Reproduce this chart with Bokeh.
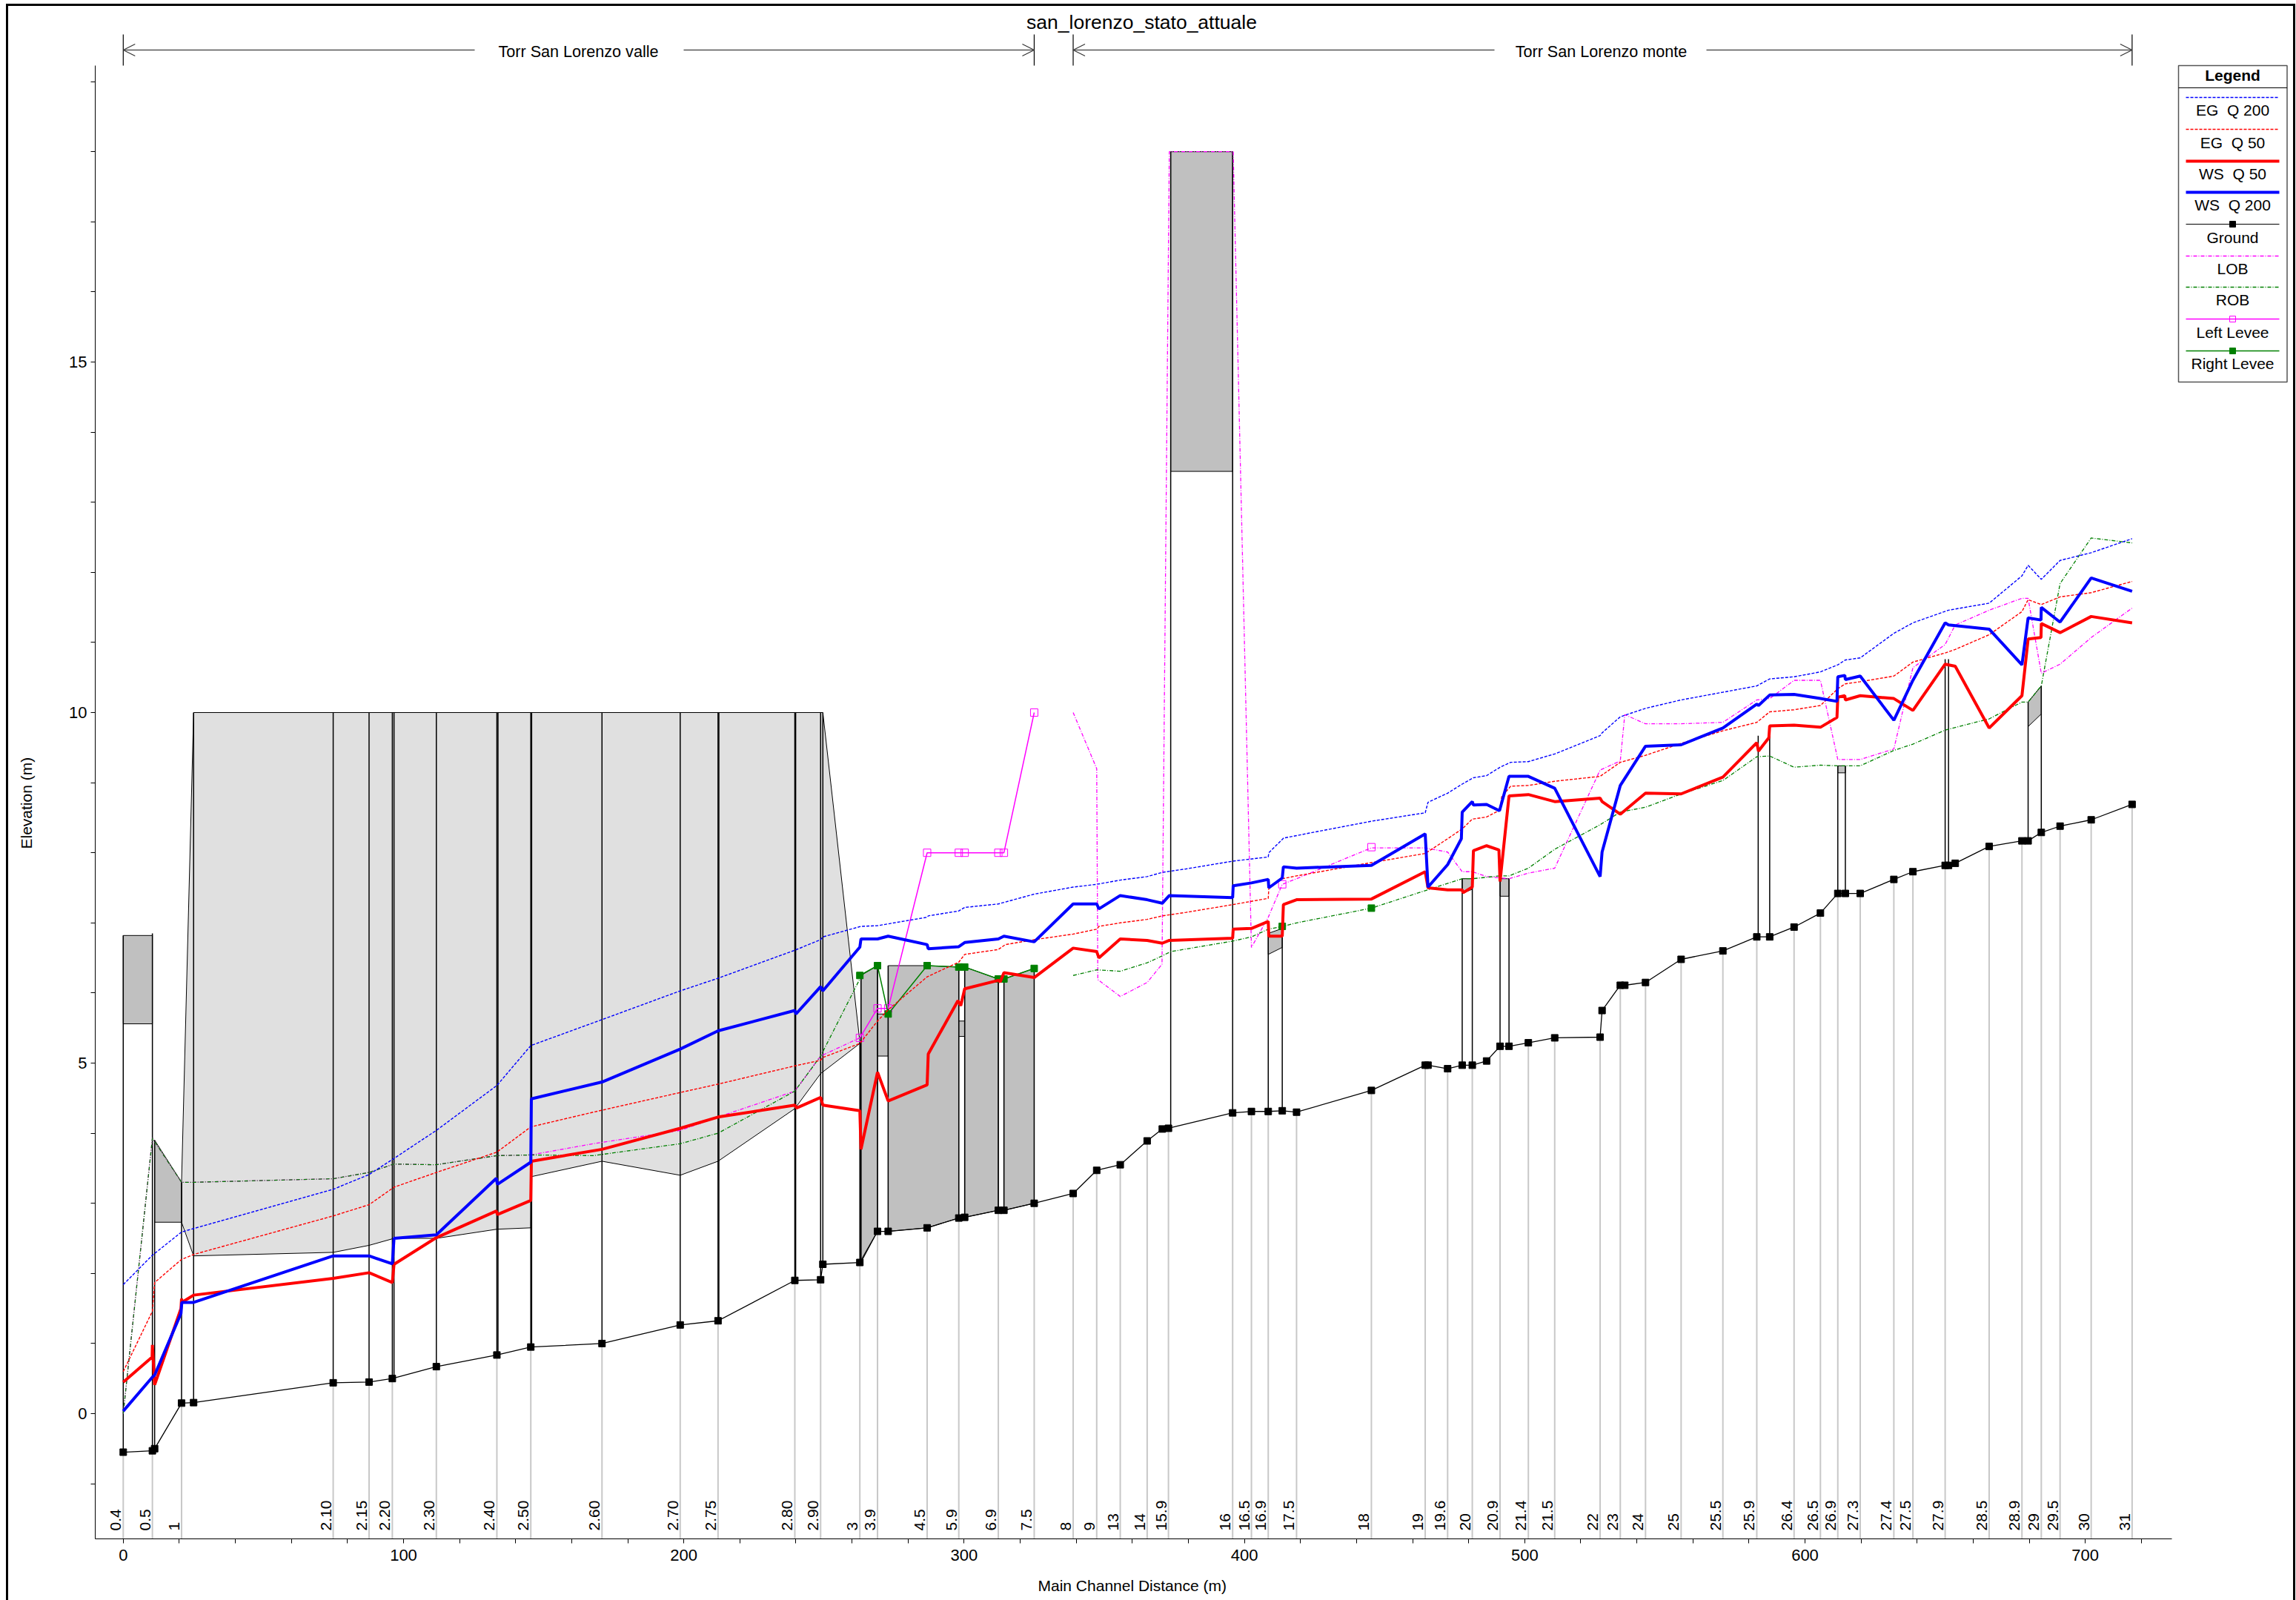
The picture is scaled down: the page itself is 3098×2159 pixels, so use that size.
from math import pi
from bokeh.plotting import figure
from bokeh.embed import file_html
from bokeh.resources import INLINE
from bokeh.core.properties import value
from bokeh.models import FixedTicker, Arrow, OpenHead, Title, InlineStyleSheet

# ---------- data ----------
station_labels = ["0.4","0.5","1","2.10","2.15","2.20","2.30","2.40","2.50","2.60","2.70","2.75","2.80","2.90","3","3.9","4.5","5.9","6.9","7.5","8","9","13","14","15.9","16","16.5","16.9","17.5","18","19","19.6","20","20.9","21.4","21.5","22","23","24","25","25.5","25.9","26.4","26.5","26.9","27.3","27.4","27.5","27.9","28.5","28.9","29","29.5","30","31"]
station_x = [0,10.4,20.8,74.9,87.7,96,111.7,133.3,145.4,170.8,198.7,212.2,239.6,248.8,262.8,269.1,286.8,298.1,312.2,325,338.9,347.3,355.7,365.3,372.9,395.8,402.5,408.5,418.6,445.3,464.5,472.5,481.3,491.2,501.3,510.7,526.9,534.1,543.1,555.8,570.7,582.8,596.1,605.5,611.7,619.7,631.7,638.5,650,665.7,677.4,684.3,691,702.1,716.7]
station_ground = [-0.55,-0.53,0.15,0.44,0.45,0.5,0.67,0.836,0.95,1.0,1.265,1.324,1.9,1.91,2.156,2.6,2.65,2.79,2.9,3.0,3.14,3.47,3.55,3.89,4.07,4.29,4.31,4.31,4.3,4.61,4.97,4.92,4.97,5.24,5.29,5.36,5.37,6.11,6.15,6.48,6.6,6.8,6.94,7.14,7.42,7.42,7.62,7.73,7.82,8.09,8.17,8.29,8.38,8.47,8.69]

ground_x = [0,10.4,11.2,20.8,25.1,74.9,87.7,96,111.7,133.3,145.4,170.8,198.7,212.2,239.6,248.8,249.6,262.8,269.1,272.9,286.8,298.1,300.2,312.2,314.2,325,338.9,347.3,355.7,365.3,370.7,372.9,395.8,402.5,408.5,413.5,418.6,445.3,464.5,465.5,472.5,477.7,481.3,486.4,491.2,494.4,501.3,510.7,526.9,527.6,534.1,535.7,543.1,555.8,570.7,582.8,587.4,596.1,605.5,611.7,614.4,619.7,631.7,638.5,650,651.2,653.6,665.7,677.4,679.6,684.3,691,702.1,716.7]
ground_y = [-0.55,-0.53,-0.5,0.15,0.157,0.44,0.45,0.5,0.67,0.836,0.95,1.0,1.265,1.324,1.9,1.91,2.13,2.156,2.6,2.6,2.65,2.79,2.8,2.9,2.9,3.0,3.14,3.47,3.55,3.89,4.06,4.07,4.29,4.31,4.31,4.32,4.3,4.61,4.97,4.97,4.92,4.97,4.97,5.03,5.24,5.24,5.29,5.36,5.37,5.75,6.11,6.11,6.15,6.48,6.6,6.8,6.8,6.94,7.14,7.42,7.42,7.42,7.62,7.73,7.82,7.82,7.85,8.09,8.17,8.17,8.29,8.38,8.47,8.69]

ws200_x = [0,10.4,11.2,20.6,20.9,25.1,74.9,87.7,96,96.6,111.7,133.1,133.5,145.4,145.6,170.8,198.7,212.2,239.6,240,248.8,249.6,262.8,263.2,269.1,272.9,286.8,287.2,298.1,300.2,312.2,314.2,325,338.9,347.3,348.1,355.7,365.3,370.7,373.2,395.8,396,402.5,408.5,408.7,413.5,413.9,418.6,445.3,464.5,465.5,472.5,477.4,477.7,481.3,481.7,486.4,491,494.4,501.3,510.7,526.9,527.6,534.1,543.1,555.8,570.7,582.8,583.4,587.4,596.1,605.5,611.4,611.7,614.2,614.4,619.7,631.7,638.5,650,651.2,665.7,677.4,679.6,684.2,684.3,691,702.1,716.7]
ws200_y = [0.036,0.52,0.55,1.43,1.586,1.586,2.25,2.25,2.136,2.5,2.55,3.357,3.27,3.586,4.49,4.73,5.2,5.46,5.75,5.7,6.09,6.03,6.655,6.77,6.77,6.81,6.69,6.63,6.66,6.72,6.77,6.81,6.73,7.27,7.27,7.2,7.39,7.33,7.28,7.39,7.36,7.53,7.57,7.62,7.5,7.64,7.8,7.78,7.82,8.27,7.51,7.83,8.2,8.58,8.73,8.68,8.69,8.6,9.09,9.09,8.92,7.66,8.01,8.96,9.52,9.54,9.78,10.12,10.1,10.25,10.26,10.2,10.16,10.51,10.53,10.47,10.52,9.89,10.46,11.28,11.25,11.19,10.68,11.35,11.32,11.5,11.29,11.92,11.73]

ws50_x = [0,10.3,10.4,11.2,20.6,20.8,21,25.1,74.9,87.7,96,96.6,111.7,133.1,133.5,145.4,145.6,170.8,198.7,212.2,239.6,240.2,248.8,249.6,262.8,263.2,269.1,272.9,286.8,287.2,297.8,298.8,300.2,312.2,312.9,314.2,325,338.9,347.3,348.1,355.7,365.3,370.7,373.2,395.8,396,402.5,408.5,408.7,413.5,413.9,418.6,445.3,464.5,465.5,472.5,477.7,478,481.3,481.7,486.4,490.8,491.2,494.4,501.3,510.7,526.9,527.6,534.1,543.1,555.8,570.7,582.8,583.4,587.1,587.4,596.1,605.5,611.4,611.7,614.2,614.4,619.7,631.7,638.5,650,653.6,665.7,677.4,679.6,684.2,684.3,691,702.1,716.7]
ws50_y = [0.45,0.807,0.98,0.41,1.5,1.64,1.59,1.69,1.93,2.01,1.87,2.13,2.51,2.89,2.84,3.04,3.6,3.77,4.07,4.23,4.4,4.36,4.51,4.4,4.32,3.77,4.87,4.46,4.69,5.13,5.89,5.82,6.06,6.18,6.16,6.29,6.22,6.64,6.59,6.5,6.77,6.75,6.71,6.75,6.78,6.91,6.92,7.02,6.81,6.81,7.26,7.33,7.34,7.73,7.5,7.47,7.47,7.43,7.51,8.03,8.1,8.04,7.59,8.81,8.83,8.73,8.78,8.73,8.55,8.85,8.84,9.08,9.57,9.45,9.64,9.81,9.82,9.79,9.93,10.22,10.24,10.18,10.24,10.2,10.03,10.69,10.66,9.78,10.24,11.05,11.07,11.27,11.14,11.37,11.28]

eg200_x = [0,10.4,20.8,25.1,74.9,87.7,96.6,111.7,133.3,145.4,170.8,198.7,212.2,239.6,248.8,249.6,263.2,269.1,286.8,287.2,298.1,300.2,312.2,325,338.9,347.3,355.7,365.3,370.7,379.2,395.8,408.5,408.7,414,445.3,464.5,465.5,472.5,477.7,481.7,486.4,491.2,495,501.3,510.7,526.9,527.6,534.1,543.1,555.8,570.7,582.8,587.4,596.1,605.5,611.7,614.4,619.7,631.7,638.5,651.2,665.7,677.4,679.6,684.3,691,702.1,716.7]
eg200_y = [1.84,2.26,2.59,2.64,3.2,3.41,3.64,4.04,4.68,5.25,5.62,6.03,6.21,6.61,6.76,6.8,6.95,6.96,7.08,7.1,7.17,7.22,7.27,7.41,7.51,7.55,7.61,7.66,7.72,7.77,7.88,7.94,8.0,8.21,8.45,8.57,8.72,8.85,8.98,9.07,9.1,9.22,9.29,9.3,9.41,9.67,9.71,9.94,10.06,10.18,10.29,10.38,10.48,10.51,10.58,10.68,10.75,10.78,11.13,11.28,11.46,11.56,11.95,12.1,11.9,12.17,12.28,12.48]

eg50_x = [0,10.4,11.2,20.8,25.1,74.9,87.7,96.6,111.7,133.3,145.4,167.7,198.7,212.2,239.6,248.8,249.6,262.8,269.1,272.9,286.8,298.1,300.2,312.2,314.7,325,338.9,347.3,348.1,355.7,365.3,370.7,379.2,395.8,408.5,408.7,413.5,418.6,445.3,464.5,472.5,477.7,481.3,486.4,491.2,491.8,495,501.3,510.7,526.9,534.1,543.1,555.8,570.7,582.8,587.4,596.1,605.5,611.7,614.4,619.7,631.7,638.5,650,653.6,665.7,677.4,679.6,684.3,691,702.1,716.7]
eg50_y = [0.6,1.46,1.87,2.2,2.27,2.82,2.98,3.23,3.44,3.73,4.09,4.3,4.58,4.7,4.96,5.04,5.08,5.28,5.6,5.76,6.23,6.44,6.55,6.62,6.69,6.76,6.84,6.91,6.95,7.0,7.05,7.1,7.15,7.26,7.35,7.49,7.63,7.67,7.86,7.99,8.2,8.34,8.48,8.51,8.61,8.8,8.95,8.96,9.02,9.09,9.29,9.39,9.56,9.74,9.86,10.01,10.04,10.1,10.34,10.41,10.44,10.52,10.72,10.85,10.9,11.11,11.44,11.61,11.54,11.65,11.71,11.87]

lob_a_x = [0,10.4,20.8,25.1,74.9,87.7,96.6,111.7,133.3,145.4,167.7,198.7,212.2,239.6,248.8,262.8]
lob_a_y = [0,3.93,3.3,3.3,3.35,3.44,3.56,3.55,3.68,3.69,3.85,4.04,4.23,4.6,5.1,5.36]
lob_b_x = [338.9,347.3,347.7,355.7,365.3,370.6,373.2,396,402.5,408.5,413.5,418.6,445.3,464.5,472.5,477.7,481.3,486.4,494.4,501.3,510.7,526.9,534.1,535.7,543.1,555.8,570.7,582.8,587.4,596.1,605.5,611.7,619.7,631.7,638.5,650,653.6,665.7,677.4,679.6,684.3,691,702.1,716.7]
lob_b_y = [10,9.2,6.19,5.95,6.15,6.41,18,18,6.65,7.08,7.55,7.63,8.07,8.07,8.01,7.73,7.73,7.66,7.63,7.71,7.78,9.18,9.31,9.97,9.84,9.84,9.86,10.18,10.2,10.46,10.46,9.33,9.33,9.48,10.64,10.97,11.25,11.46,11.63,11.63,10.56,10.69,11.07,11.49]
rob_a_x = [0,10.4,20.8,25.1,74.9,87.7,96.6,111.7,133.3,145.4,167.7,198.7,212.2,239.6,248.8,262.8]
rob_a_y = [0,3.93,3.3,3.3,3.35,3.44,3.56,3.55,3.68,3.69,3.68,3.85,4.0,4.6,5.1,6.2]
rob_b_x = [338.9,347.3,355.7,365.3,370.7,373.7,395.8,402.5,408.5,413.5,418.6,445.3,464.5,477.7,481.3,491.2,494.4,501.3,510.7,526.9,534.1,543.1,555.8,570.7,582.8,587.4,596.1,605.5,611.7,619.7,631.7,638.5,650,665.7,677.4,679.6,684.3,691,702.1,716.7]
rob_b_y = [6.25,6.33,6.31,6.43,6.53,6.59,6.74,6.8,6.91,6.95,7.0,7.21,7.46,7.63,7.63,7.67,7.67,7.78,8.05,8.4,8.58,8.65,8.84,9.03,9.37,9.38,9.22,9.25,9.24,9.24,9.46,9.55,9.75,9.91,10.15,10.15,10.38,11.84,12.49,12.42]

left_levee_x = [262.8,269.1,272.9,286.8,298.1,300.2,312.2,314.2,325]
left_levee_y = [5.36,5.78,5.78,8.0,8.0,8.0,8.0,8.0,10.0]
right_levee_x = [262.8,269.1,272.9,286.8,298.1,300.2,312.2,314.2,325]
right_levee_y = [6.25,6.39,5.7,6.39,6.37,6.37,6.2,6.2,6.35]
left_levee_pts_x = [413.5,445.3]
left_levee_pts_y = [7.55,8.08]
right_levee_pts_x = [413.5,445.3]
right_levee_pts_y = [6.95,7.21]

# pale approach structure
pale_x = [20.8,25.1,249.6,262.8,262.8,248.8,239.6,212.2,198.7,170.8,145.6,145.4,133.3,111.7,96.6,87.7,74.9,25.1,20.8]
pale_y = [3.3,10,10,5.3,5.28,4.85,4.35,3.6,3.4,3.6,3.38,2.65,2.63,2.5,2.5,2.4,2.3,2.25,2.73]

# dark decks
deck_xs = [[0,10.4,10.4,0],[11.2,20.8,20.8,11.2],[263.2,269.1,269.1,263.2],[269.1,272.9,272.9,269.1],[272.9,286.8,298.1,298.1,286.8,272.9],[298.1,300.2,300.2,298.1],[300.2,312.2,312.2,300.2],[314.2,325,325,314.2],[373.7,395.8,395.8,373.7],[408.5,413.5,413.5,408.5],[477.7,481.3,481.3,477.7],[491.2,494.4,494.4,491.2],[611.7,614.4,614.4,611.7],[679.6,684.3,684.3,679.6]]
deck_ys = [[6.82,6.82,5.56,5.56],[3.9,3.3,2.73,2.73],[6.25,6.39,2.6,2.156],[5.7,5.7,5.1,5.1],[6.39,6.39,6.37,2.79,2.65,2.6],[5.6,5.6,5.38,5.38],[6.37,6.2,2.9,2.8],[6.2,6.35,3.0,2.9],[18,18,13.44,13.44],[6.85,6.92,6.65,6.55],[7.63,7.63,7.48,7.42],[7.63,7.63,7.38,7.38],[9.24,9.24,9.14,9.14],[10.15,10.38,9.98,9.8]]

# black vertical lines of the structures
pier_x =  [0,10.4,11.2,20.8,25.1,74.9,87.7,96,96.6,111.7,133.3,133.7,145.4,145.7,170.8,198.7,212.2,212.5,239.6,239.9,248.8,249.6,262.8,263.2,269.1,272.9,298.1,300.2,312.2,314.2,325,373.7,395.8,408.5,413.5,477.7,481.3,491.2,494.4,583.3,587.4,611.7,614.4,650,651.2,679.6,684.3]
pier_lo = [-0.55,-0.53,-0.5,0.15,0.157,0.44,0.45,0.5,0.5,0.67,0.836,0.836,0.95,0.95,1.0,1.265,1.324,1.324,1.9,1.9,1.91,2.13,2.156,2.156,2.6,2.6,2.79,2.8,2.9,2.9,3.0,4.07,4.29,4.31,4.32,4.97,4.97,5.24,5.24,6.8,6.8,7.42,7.42,7.82,7.82,8.17,8.29]
pier_hi = [6.82,6.85,3.9,3.3,10,10,10,10,10,10,10,10,10,10,10,10,10,10,10,10,10,10,5.3,6.25,6.39,6.39,6.37,6.37,6.2,6.2,6.35,18,18,6.85,6.92,7.63,7.63,7.63,7.63,9.67,9.67,9.24,9.24,10.76,10.76,10.15,10.38]

x_ticks = [0,100,200,300,400,500,600,700]
x_minor = [20,40,60,80,120,140,160,180,220,240,260,280,320,340,360,380,420,440,460,480,520,540,560,580,620,640,660,680,720]
y_ticks = [0,5,10,15]
y_minor = [-1,1,2,3,4,6,7,8,9,11,12,13,14,16,17,18,19]

title_text = "san_lorenzo_stato_attuale"
reach_names = ["Torr San Lorenzo valle","Torr San Lorenzo monte"]
legend_titles = ["EG \u00a0Q 200","EG \u00a0Q 50","WS \u00a0Q 50","WS \u00a0Q 200","Ground","LOB","ROB","Left Levee","Right Levee"]

# ---------- page geometry (page px -> data) ----------
W, H = 3098, 2159
PX0, PXM = 165.8, 3.782
PY0, PYM = 1907.0, 94.6
def dx(px): return (px-PX0)/PXM
def dy(py): return (PY0-py)/PYM
AX_L, AX_B, AX_T, AX_R = 128, 2076, 88, 2930
FONT = "Liberation Sans"

p = figure(width=W, height=H, output_backend="svg", toolbar_location=None,
           x_range=(dx(AX_L), dx(W)), y_range=(dy(AX_B), dy(0)),
           min_border_left=AX_L, min_border_right=0, min_border_top=0,
           min_border_bottom=H-AX_B, background_fill_color="white",
           border_fill_color="white", outline_line_color=None)
p.frame_width = W-AX_L
p.frame_height = AX_B
p.xgrid.visible = False
p.ygrid.visible = False
p.stylesheets = [InlineStyleSheet(css=":host{position:relative;} :host::after{content:'';position:absolute;left:8px;top:5px;right:1px;bottom:0;border:3px solid black;border-bottom:none;pointer-events:none;}")]

for ax, tk, mn, bd in ((p.xaxis[0], x_ticks, x_minor, (dx(AX_L), dx(AX_R))),
                       (p.yaxis[0], y_ticks, y_minor, (dy(AX_B), dy(AX_T)))):
    ax.ticker = FixedTicker(ticks=tk, minor_ticks=mn)
    ax.bounds = bd
    ax.major_tick_in = 0; ax.major_tick_out = 6
    ax.minor_tick_in = 0; ax.minor_tick_out = 6
    ax.axis_line_color = "black"; ax.major_tick_line_color = "black"; ax.minor_tick_line_color = "black"
    ax.major_label_text_font = FONT; ax.major_label_text_font_size = "22px"; ax.major_label_text_color = "black"
p.xaxis[0].major_label_standoff = 8
p.yaxis[0].major_label_orientation = "horizontal"
# blank axis label keeps the y title away from the tick labels
p.yaxis[0].axis_label = "\u00a0"
p.yaxis[0].axis_label_text_font_size = "1px"
p.yaxis[0].axis_label_standoff = 20

# axis titles in the side panels (annotations in the plot area would be clipped to the frame)
p.add_layout(Title(text="Main Channel Distance (m)", align="left", offset=1272, standoff=34, text_font=FONT,
                   text_font_size="21px", text_font_style="normal", text_color="black"), "below")
p.add_layout(Title(text="Elevation (m)", align="left", offset=931, standoff=38, text_font=FONT,
                   text_font_size="21px", text_font_style="normal", text_color="black"), "left")

# structures
p.patch(pale_x, pale_y, fill_color="#e0e0e0", line_color="black", line_width=1)
p.patches(deck_xs, deck_ys, fill_color="#c0c0c0", line_color="black", line_width=1)
p.segment(station_x, [dy(AX_B)]*len(station_x), station_x, station_ground, line_color="#c8c8c8", line_width=2)
p.segment(pier_x, pier_lo, pier_x, pier_hi, line_color="black", line_width=1.5)

# series
dash_eg = "4 2"; dash_ob = "5 2 1 2"
p.line(lob_a_x, lob_a_y, line_color="#ff00ff", line_width=1.3, line_dash=dash_ob)
p.line(lob_b_x, lob_b_y, line_color="#ff00ff", line_width=1.3, line_dash=dash_ob)
p.line(rob_a_x, rob_a_y, line_color="#008000", line_width=1.3, line_dash=dash_ob)
p.line(rob_b_x, rob_b_y, line_color="#008000", line_width=1.3, line_dash=dash_ob)
p.line(left_levee_x, left_levee_y, line_color="#ff00ff", line_width=1.5)
p.scatter(left_levee_x+left_levee_pts_x, left_levee_y+left_levee_pts_y, marker="square", size=10, line_color="#ff00ff", fill_color=None)
p.line(right_levee_x, right_levee_y, line_color="#008000", line_width=1.5)
p.scatter(right_levee_x+right_levee_pts_x, right_levee_y+right_levee_pts_y, marker="square", size=9, line_color="#008000", fill_color="#008000")
p.line(eg200_x, eg200_y, line_color="#0000ff", line_width=1.4, line_dash=dash_eg)
p.line(eg50_x, eg50_y, line_color="#ff0000", line_width=1.4, line_dash=dash_eg)
p.line(ground_x, ground_y, line_color="black", line_width=1.3)
p.scatter(ground_x, ground_y, marker="square", size=9, line_color="black", fill_color="black")
p.line(ws50_x, ws50_y, line_color="#ff0000", line_width=4)
p.line(ws200_x, ws200_y, line_color="#0000ff", line_width=4)

# station labels
p.text(station_x, [dy(2065)]*len(station_x), text=station_labels, angle=pi/2, x_offset=-3,
       text_font=value(FONT), text_font_size="21px", text_align="left", text_baseline="bottom", text_color="black")

# title, reach brackets
def txt(x, y, s, bold=False, size="21px", align="center"):
    p.text([x],[y],text=[s],text_font=value(FONT),text_font_size=size,text_align=align,text_baseline="middle",
           text_color="black",text_font_style="bold" if bold else "normal")
txt(dx(1540), dy(29), title_text, size="26.5px")

def bracket(x0, x1, name, cx, g0, g1):
    yy = dy(67)
    for xt in (x0, x1):
        p.segment([xt],[dy(46)],[xt],[dy(88)],line_color="black",line_width=1.2)
    p.add_layout(Arrow(end=OpenHead(size=16,line_color="#333333",line_width=1.2), x_start=dx(g0), y_start=yy, x_end=x0, y_end=yy, line_color="#555555", line_width=1.5))
    p.add_layout(Arrow(end=OpenHead(size=16,line_color="#333333",line_width=1.2), x_start=dx(g1), y_start=yy, x_end=x1, y_end=yy, line_color="#555555", line_width=1.5))
    txt(dx(cx), dy(69), name, size="21.6px")
bracket(0, 325, reach_names[0], 780, 640, 922)
bracket(338.9, 716.7, reach_names[1], 2160, 2016, 2302)

# legend
LX0, LX1, LTOP, LBOT = 2939, 3085.5, 88, 515
p.quad(left=[dx(LX0)],right=[dx(LX1)],top=[dy(LTOP)],bottom=[dy(LBOT)],fill_color="white",line_color="#555555",line_width=1.5)
p.line([dx(LX0),dx(LX1)],[dy(118)]*2,line_color="black",line_width=1.2)
txt(dx(3012), dy(101), "Legend", bold=True)
line_y = [131,174,217,259,302,345,387,430,473]
text_y = [148,192,234,276,320,362,404,448,490]
styles = [dict(line_color="#0000ff",line_width=1.4,line_dash=dash_eg),
          dict(line_color="#ff0000",line_width=1.4,line_dash=dash_eg),
          dict(line_color="#ff0000",line_width=4),
          dict(line_color="#0000ff",line_width=4),
          dict(line_color="black",line_width=1.2),
          dict(line_color="#ff00ff",line_width=1.3,line_dash=dash_ob),
          dict(line_color="#008000",line_width=1.3,line_dash=dash_ob),
          dict(line_color="#ff00ff",line_width=1.5),
          dict(line_color="#008000",line_width=1.5)]
for ly, ty, nm, st in zip(line_y, text_y, legend_titles, styles):
    p.line([dx(2949),dx(3075)],[dy(ly)]*2,**st)
    txt(dx(3012), dy(ty), nm)
p.scatter([dx(3012)],[dy(302)],marker="square",size=8,line_color="black",fill_color="black")
p.scatter([dx(3012)],[dy(430)],marker="square",size=8,line_color="#ff00ff",fill_color=None)
p.scatter([dx(3012)],[dy(473)],marker="square",size=8,line_color="#008000",fill_color="#008000")

open("out.html", "w").write(file_html(p, INLINE))
